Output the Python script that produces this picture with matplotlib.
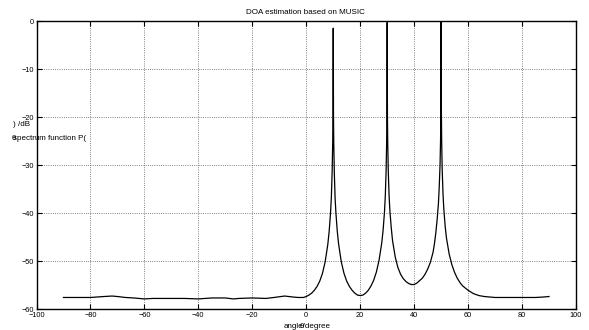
import numpy as np
import matplotlib.pyplot as plt

# MUSIC spectrum (angle in degree, P in dB)
angles = [-90, -85, -80, -75, -72, -70, -67, -64, -60, -57, -50, -45, -40, -35,
          -30, -27, -25, -20, -15, -12, -8, -5, -3, -1,
          0, 1, 2, 3, 4, 5, 6, 7, 8, 8.5, 9, 9.3, 9.6, 9.8, 9.9,
          10, 10.1, 10.2, 10.4, 10.7, 11, 11.5, 12, 13, 14, 15, 16, 17, 18, 19,
          20, 21, 22, 23, 24, 25, 26, 27, 28, 28.5, 29, 29.3, 29.6, 29.8, 29.9,
          30, 30.1, 30.2, 30.4, 30.7, 31, 31.5, 32, 33, 34, 35, 36, 37, 38, 39,
          40, 41, 42, 43, 44, 45, 46, 47, 47.5, 48, 48.5, 49, 49.3, 49.6, 49.8, 49.9,
          50, 50.1, 50.2, 50.4, 50.7, 51, 51.5, 52, 53, 54, 55, 56, 57, 58,
          60, 62, 64, 66, 68, 70, 75, 80, 85, 88, 90]
p_db = [-57.6, -57.6, -57.6, -57.4, -57.3, -57.4, -57.6, -57.7, -57.9, -57.8, -57.8, -57.8, -57.9, -57.7,
        -57.7, -57.9, -57.8, -57.7, -57.8, -57.6, -57.3, -57.5, -57.6, -57.6,
        -57.4, -57.1, -56.7, -56.1, -55.3, -54.2, -52.6, -50.2, -46.5, -43.8, -40.0, -36.8, -31.5, -25.5, -20.0,
        -1.5, -20.0, -25.5, -31.5, -37.0, -40.0, -43.8, -46.5, -50.2, -52.6, -54.2, -55.3, -56.1, -56.7, -57.1,
        -57.2, -57.1, -56.7, -56.1, -55.2, -54.0, -52.3, -49.8, -46.2, -43.5, -39.8, -36.5, -31.3, -25.3, -19.8,
        -0.3, -19.8, -25.2, -31.1, -36.3, -39.5, -43.0, -45.8, -49.2, -51.4, -52.8, -53.7, -54.3, -54.7, -54.9,
        -54.9, -54.6, -54.1, -53.6, -52.8, -51.7, -50.3, -48.2, -46.5, -44.3, -41.5, -38.0, -34.5, -30.0, -24.5, -19.0,
        -0.1, -19.3, -25.0, -31.0, -36.0, -39.2, -42.8, -45.3, -48.6, -50.8, -52.4, -53.6, -54.5, -55.2,
        -56.1, -56.8, -57.2, -57.4, -57.5, -57.6, -57.6, -57.6, -57.6, -57.5, -57.4]

xticks = [-100, -80, -60, -40, -20, 0, 20, 40, 60, 80, 100]
yticks = [0, -10, -20, -30, -40, -50, -60]

plt.rcParams['font.family'] = ['Liberation Sans', 'DejaVu Sans']

W, H = 589, 330
fig = plt.figure(figsize=(W / 100, H / 100), dpi=100)
ax = fig.add_axes([36.5 / W, 1 - 309 / H, (576 - 36.5) / W, (309 - 21) / H])

ax.plot(angles, p_db, color='k', lw=0.9)
ax.set_xlim(-100, 100)
ax.set_ylim(-60, 0)
ax.set_xticks(xticks)
ax.set_yticks(yticks)
ax.grid(True, ls=':', color='0.35', lw=0.6)
ax.tick_params(direction='in', length=3.5, width=0.8, top=True, right=True,
               labelsize=5.3, pad=2)
for s in ax.spines.values():
    s.set_linewidth(1.0)

# title and the (oddly rendered) labels of the original
fig.text(305 / W, 1 - 12 / H, 'DOA estimation based on MUSIC', ha='center', va='center', fontsize=5.8)
fig.text(284 / W, 1 - 326.5 / H, 'angle/degree', ha='left', va='center', fontsize=5.8)
fig.text(300 / W, 1 - 326.5 / H, '\u03b8', ha='left', va='center', fontsize=5.8)
fig.text(13 / W, 1 - 125 / H, ') /dB', ha='left', va='center', fontsize=5.8)
fig.text(13 / W, 1 - 138.5 / H, 'spectrum function P(', ha='left', va='center', fontsize=5.8)
fig.text(12 / W, 1 - 138.5 / H, '\u03b8', ha='left', va='center', fontsize=5.8)

fig.savefig('out.png', dpi=100)
